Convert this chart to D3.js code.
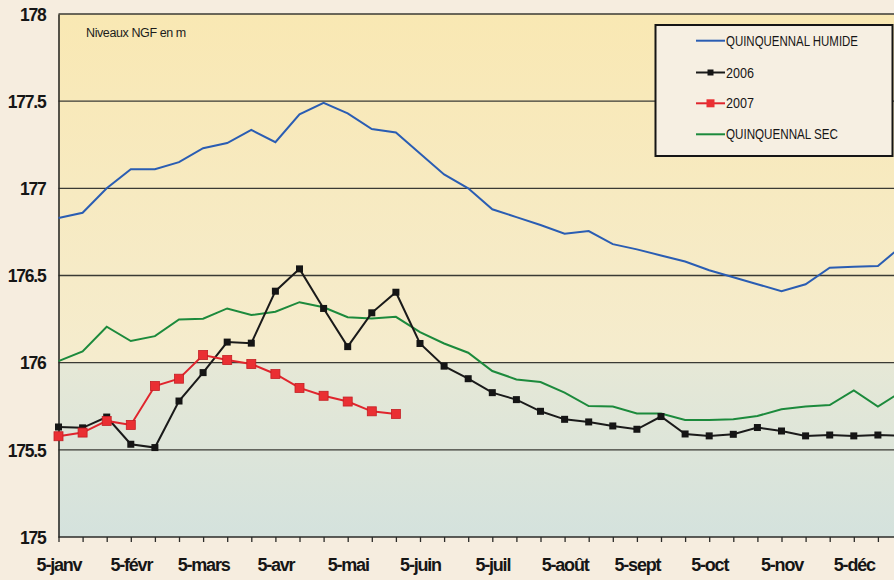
<!DOCTYPE html>
<html><head><meta charset="utf-8">
<script src="https://cdn.jsdelivr.net/npm/d3@7"></script>
<style>
html,body{margin:0;padding:0;background:#f6eddf;overflow:hidden}
svg{display:block}
text{font-family:"Liberation Sans",Arial,sans-serif}
</style></head>
<body>
<svg id="chart" width="894" height="580"></svg>
<script>
const categories = ["5-janv","15-janv","25-janv","5-févr","15-févr","25-févr","5-mars","15-mars","25-mars",
 "5-avr","15-avr","25-avr","5-mai","15-mai","25-mai","5-juin","15-juin","25-juin",
 "5-juil","15-juil","25-juil","5-août","15-août","25-août","5-sept","15-sept","25-sept",
 "5-oct","15-oct","25-oct","5-nov","15-nov","25-nov","5-déc","15-déc","25-déc"];
const yTicks = [175, 175.5, 176, 176.5, 177, 177.5, 178];
const humide = [176.83,176.86,177.0,177.11,177.11,177.15,177.23,177.26,177.335,177.265,177.425,177.49,
 177.43,177.34,177.32,177.2,177.08,177.0,176.88,176.835,176.79,176.74,176.755,176.68,
 176.65,176.615,176.58,176.53,176.49,176.45,176.41,176.45,176.545,176.55,176.555,176.67];
const y2006 = [175.631,175.626,175.688,175.532,175.513,175.78,175.943,176.118,176.112,176.41,176.538,176.311,
 176.092,176.286,176.404,176.11,175.98,175.908,175.828,175.788,175.721,175.675,175.66,175.637,
 175.618,175.691,175.591,175.58,175.589,175.628,175.608,175.58,175.585,175.58,175.585,175.58];
const y2007 = [175.578,175.599,175.666,175.643,175.866,175.908,176.044,176.015,175.992,175.935,175.855,175.81,
 175.777,175.721,175.706];
const sec = [176.009,176.065,176.206,176.124,176.152,176.248,176.252,176.311,176.273,176.292,176.347,176.318,
 176.261,176.254,176.263,176.175,176.11,176.057,175.952,175.904,175.889,175.828,175.751,175.748,
 175.708,175.708,175.671,175.671,175.675,175.694,175.733,175.748,175.757,175.841,175.748,175.836];
const seriesNames = ["QUINQUENNAL HUMIDE","2006","2007","QUINQUENNAL SEC"];
const yLabel = "Niveaux NGF en m";

const svg = d3.select("#chart");
const mLeft = 58.5, mTop = 14, mBottom = 537;
const x = d3.scaleLinear().domain([0, categories.length - 1]).range([mLeft, mLeft + 35 * 24.1]);
const y = d3.scaleLinear().domain([175, 178]).range([mBottom, mTop]);

const defs = svg.append("defs");
const g1 = defs.append("linearGradient").attr("id","gUp").attr("x1",0).attr("y1",0).attr("x2",0).attr("y2",1);
g1.append("stop").attr("offset","0%").attr("stop-color","#f9e8b3");
g1.append("stop").attr("offset","100%").attr("stop-color","#f5ecce");
const g2 = defs.append("linearGradient").attr("id","gLow").attr("x1",0).attr("y1",0).attr("x2",0).attr("y2",1);
g2.append("stop").attr("offset","0%").attr("stop-color","#e6e8d6");
g2.append("stop").attr("offset","100%").attr("stop-color","#d4e2dd");

const W = 900;
svg.append("rect").attr("x", mLeft).attr("y", y(178)).attr("width", W - mLeft).attr("height", y(176) - y(178)).attr("fill","url(#gUp)");
svg.append("rect").attr("x", mLeft).attr("y", y(176)).attr("width", W - mLeft).attr("height", y(175) - y(176)).attr("fill","url(#gLow)");

// gridlines
svg.append("g").selectAll("line").data(yTicks.filter(d => d > 175)).join("line")
  .attr("x1", mLeft).attr("x2", W).attr("y1", d => y(d)).attr("y2", d => y(d))
  .attr("stroke", "#3a3a34").attr("stroke-width", 1.4);

// y axis
const yAxis = svg.append("g").attr("transform", `translate(${mLeft},0)`)
  .call(d3.axisLeft(y).tickValues(yTicks).tickSize(0).tickPadding(13).tickFormat(d => String(d)));
yAxis.select(".domain").attr("stroke", "#2b2b28").attr("stroke-width", 1.6);
yAxis.selectAll("text").attr("font-size", 17.5).attr("font-weight", "bold").attr("fill", "#161616")
  .attr("letter-spacing", "-1.2px").attr("dy", "0.36em");

// x axis
const xAxis = svg.append("g").attr("transform", `translate(0,${mBottom})`)
  .call(d3.axisBottom(x).tickValues(d3.range(categories.length)).tickSize(5).tickPadding(16)
    .tickFormat(i => (i % 3 === 0 ? categories[i] : "")));
xAxis.select(".domain").attr("d", `M${mLeft},0H${W}`).attr("stroke", "#2b2b28").attr("stroke-width", 1.6);
xAxis.selectAll(".tick line").attr("stroke", "#2b2b28").attr("stroke-width", 1.3);
xAxis.selectAll("text").attr("font-size", 18).attr("font-weight", "bold").attr("fill", "#161616")
  .attr("letter-spacing", "-1.2px");

// label
svg.append("text").attr("x", 86).attr("y", 37).attr("font-size", 12.5).attr("letter-spacing", "-0.4px")
  .attr("fill", "#1c1c1c").text(yLabel);

const line = d3.line().x((d, i) => x(i)).y(d => y(d));
svg.append("path").datum(humide).attr("d", line).attr("fill", "none").attr("stroke", "#2a5db3").attr("stroke-width", 2);
svg.append("path").datum(sec).attr("d", line).attr("fill", "none").attr("stroke", "#1c8a3c").attr("stroke-width", 2);
svg.append("path").datum(y2006).attr("d", line).attr("fill", "none").attr("stroke", "#1a1a1a").attr("stroke-width", 2);
svg.append("g").selectAll("rect").data(y2006).join("rect")
  .attr("x", (d, i) => x(i) - 3.5).attr("y", d => y(d) - 3.5).attr("width", 7).attr("height", 7).attr("fill", "#151515");
svg.append("path").datum(y2007).attr("d", line).attr("fill", "none").attr("stroke", "#e0252d").attr("stroke-width", 2);
svg.append("g").selectAll("rect").data(y2007).join("rect")
  .attr("x", (d, i) => x(i) - 4.5).attr("y", d => y(d) - 4.5).attr("width", 9).attr("height", 9)
  .attr("fill", "#ea2f33").attr("stroke", "#c41e24").attr("stroke-width", 0.8);

// legend
const lg = svg.append("g");
lg.append("rect").attr("x", 655.5).attr("y", 25).attr("width", 237).attr("height", 131)
  .attr("fill", "#f6efe2").attr("stroke", "#151515").attr("stroke-width", 2);
const legendItems = [
  {name: seriesNames[0], color: "#2a5db3", marker: null, w: 132},
  {name: seriesNames[1], color: "#1a1a1a", marker: "#151515", w: 28},
  {name: seriesNames[2], color: "#e0252d", marker: "#ea2f33", w: 28},
  {name: seriesNames[3], color: "#1c8a3c", marker: null, w: 112}
];
const rowY = [40.7, 72.5, 103.3, 134.3];
legendItems.forEach((it, k) => {
  const yy = rowY[k];
  lg.append("line").attr("x1", 696).attr("x2", 725).attr("y1", yy).attr("y2", yy)
    .attr("stroke", it.color).attr("stroke-width", 2);
  if (it.marker) {
    const s = k === 2 ? 8 : 6;
    lg.append("rect").attr("x", 710.5 - s / 2).attr("y", yy - s / 2).attr("width", s).attr("height", s).attr("fill", it.marker);
  }
  lg.append("text").attr("x", 726).attr("y", yy + 5).attr("font-size", 14).attr("fill", "#161616")
    .attr("textLength", it.w).attr("lengthAdjust", "spacingAndGlyphs").text(it.name);
});
</script>
</body></html>
